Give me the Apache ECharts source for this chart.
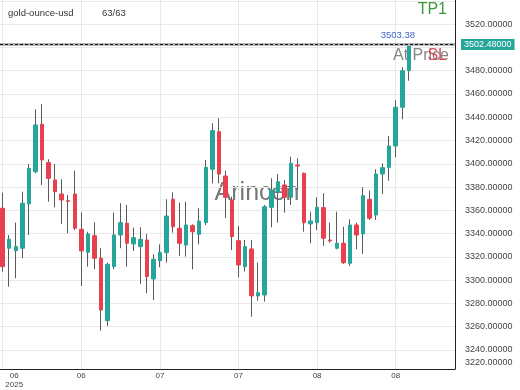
<!DOCTYPE html>
<html>
<head>
<meta charset="utf-8">
<script src="https://cdn.jsdelivr.net/npm/echarts@6/dist/echarts.min.js"></script>
<style>html,body{margin:0;padding:0;background:#fff}#c{width:520px;height:390px}</style>
</head>
<body>
<div id="c"></div>
<script>
// ---- data ----
const symbolName = 'gold-ounce-usd';
const opens  = [3361.8,3327.4,3325.3,3327.4,3365.5,3393.2,3434.0,3401.0,3386.1,3374.0,
                3368.3,3374.0,3343.7,3323.9,3338.2,3318.8,3265.2,3311.6,3338.8,3348.9,
                3331.1,3328.8,3334.5,3301.0,3316.7,3323.6,3369.5,3344.6,3330.2,3346.8,
                3339.4,3349.4,3395.3,3427.6,3389.5,3368.9,3333.9,3311.6,3326.8,3286.4,
                3287.2,3362.6,3376.0,3381.8,3371.2,3399.0,3391.8,3348.3,3349.4,3362.3,
                3334.5,3327.4,3331.7,3314.5,3347.4,3339.7,3369.5,3356.0,3391.2,3397.0,
                3415.3,3448.6,3480.0];
const closes = [3311.6,3335.1,3328.8,3366.1,3396.1,3433.4,3403.3,3387.5,3376.0,3368.9,
                3367.8,3344.6,3325.1,3339.7,3318.8,3274.3,3313.6,3338.8,3349.4,3331.7,
                3336.5,3335.1,3303.0,3317.9,3323.9,3355.1,3345.9,3331.7,3347.4,3341.6,
                3350.8,3397.0,3428.5,3391.2,3371.2,3337.4,3313.0,3328.8,3286.4,3289.2,
                3363.1,3377.5,3384.6,3371.2,3400.4,3398.1,3349.4,3350.8,3362.6,3336.0,
                3333.7,3331.7,3315.0,3347.4,3338.8,3372.6,3353.2,3391.2,3396.7,3415.3,
                3448.6,3480.0,3502.48];
const lows   = [3307.3,3294.4,3301.6,3318.8,3338.8,3391.8,3381.8,3367.4,3362.6,3348.3,
                3340.3,3343.1,3295.0,3311.6,3309.3,3256.6,3260.6,3309.3,3327.4,3311.6,
                3325.1,3296.7,3288.7,3282.9,3311.0,3315.0,3340.8,3320.8,3320.2,3309.3,
                3330.8,3347.4,3383.2,3383.2,3353.2,3325.9,3302.5,3307.3,3268.6,3282.3,
                3281.5,3345.4,3349.4,3358.0,3364.6,3377.5,3341.6,3331.7,3343.1,3329.4,
                3332.2,3326.5,3313.9,3312.2,3326.5,3322.5,3351.7,3351.7,3374.0,3385.5,
                3405.6,3438.3,3471.4];
const highs  = [3375.2,3338.8,3349.4,3376.0,3399.8,3446.8,3451.4,3403.9,3399.8,3386.7,
                3373.2,3394.1,3358.3,3341.6,3349.7,3327.4,3315.0,3358.0,3366.1,3364.6,
                3345.1,3345.4,3339.7,3322.2,3330.8,3369.5,3375.5,3366.6,3367.4,3348.0,
                3361.8,3403.3,3434.8,3439.1,3394.1,3371.7,3346.5,3334.5,3334.5,3315.0,
                3364.6,3387.5,3391.2,3386.1,3406.1,3404.7,3392.5,3358.8,3371.2,3374.7,
                3349.4,3358.8,3345.9,3352.3,3349.4,3379.8,3376.9,3395.3,3400.4,3423.9,
                3454.8,3482.9,3503.38];
const xTickIndex  = [0, 12, 24, 36, 48, 60];
const xTickLabels = ['06', '06', '07', '07', '08', '08'];
const yearLabel = '2025';
const yTicks = [3240,3260,3280,3300,3320,3340,3360,3380,3400,3420,3440,3460,3480,3500,3520,3540];
const yLabelTicks = [3240,3260,3280,3300,3320,3340,3360,3380,3400,3420,3440,3460,3480,3500,3520];
const lastPrice = 3502.48;
const lastHigh = 3503.38;

// ---- layout constants ----
const Y_MIN = 3223.6, Y_MAX = 3540.8;
const X_MIN = -0.412, X_MAX = 69.05;
const UP = '#26a69a', DOWN = '#e8404f', WICK = '#5a5a5a';
const FONT = '"Liberation Sans", Arial, sans-serif';

const n = opens.length;
const wickData = opens.map((o, i) => [i, o, closes[i], lows[i], highs[i]]);
const bodyData = opens.map((o, i) => [i, o, closes[i], Math.min(o, closes[i]), Math.max(o, closes[i])]);

const chart = echarts.init(document.getElementById('c'), null, {renderer: 'canvas'});
chart.setOption({
  animation: false,
  grid: {left: 0, right: 65, top: 0, bottom: 21, containLabel: false, outerBoundsMode: 'none'},
  xAxis: {
    type: 'value', min: X_MIN, max: X_MAX,
    axisLine: {show: true, onZero: false, lineStyle: {color: '#222', width: 1}},
    axisTick: {show: false, customValues: xTickIndex},
    splitLine: {show: true, lineStyle: {color: '#e9e9e9', width: 1}},
    axisLabel: {
      customValues: xTickIndex,
      fontSize: 8, color: '#444', fontFamily: FONT, margin: 2, lineHeight: 9,
      formatter: function (v) {
        const k = xTickIndex.indexOf(Math.round(v));
        const t = k >= 0 ? xTickLabels[k] : '';
        if (k === 0) return '{f|' + t + '}\n{f|' + yearLabel + '}';
        return t;
      },
      rich: {f: {fontSize: 8, color: '#444', fontFamily: FONT, lineHeight: 9, padding: [0, 0, 0, 23]}}
    }
  },
  yAxis: {
    type: 'value', position: 'right', min: Y_MIN, max: Y_MAX, scale: true,
    axisLine: {show: true, onZero: false, lineStyle: {color: '#222', width: 1}},
    axisTick: {show: false, customValues: yTicks},
    splitLine: {show: true, lineStyle: {color: '#e9e9e9', width: 1}},
    axisLabel: {
      customValues: [Y_MIN].concat(yLabelTicks),
      fontSize: 9, color: '#444', fontFamily: FONT, margin: 10,
      formatter: function (v) {
        const t = (Math.round(v / 20) * 20).toFixed(5);
        if (v === Y_MIN) return '{m|' + t + '}';
        return t;
      },
      rich: {m: {fontSize: 9, color: '#444', fontFamily: FONT, padding: [0, 0, 12, 0]}}
    }
  },
  graphic: [
    {type: 'text', z: 0, x: 257, y: 193,
     style: {text: 'Arincen', font: '25px ' + FONT, fill: 'rgba(85,85,85,0.8)', align: 'center', verticalAlign: 'middle'}},
    {type: 'text', z: 100, x: 8, y: 13,
     style: {text: symbolName, font: '9.5px ' + FONT, fill: '#333', align: 'left', verticalAlign: 'middle'}},
    {type: 'text', z: 100, x: 102, y: 13,
     style: {text: n + '/' + n, font: '9.5px ' + FONT, fill: '#333', align: 'left', verticalAlign: 'middle'}},
    {type: 'text', z: 100, x: 447, y: 10,
     style: {text: 'TP1', font: '16px ' + FONT, fill: '#3f9a3f', align: 'right', verticalAlign: 'middle'}},
    {type: 'text', z: 100, x: 393, y: 56,
     style: {text: 'At Price', font: '16px ' + FONT, fill: 'rgba(120,120,120,0.9)', align: 'left', verticalAlign: 'middle'}},
    {type: 'text', z: 101, x: 447, y: 56,
     style: {text: 'SL', font: '16px ' + FONT, fill: 'rgba(214,58,70,0.9)', align: 'right', verticalAlign: 'middle'}}
  ],
  series: [
    {
      type: 'candlestick', name: 'wick', z: 2, barWidth: 1,
      data: wickData, encode: {x: 0, y: [1, 2, 3, 4]},
      itemStyle: {color: WICK, color0: WICK, borderColor: WICK, borderColor0: WICK, borderWidth: 1},
      silent: true
    },
    {
      type: 'candlestick', name: symbolName, z: 3, barWidth: 4,
      data: bodyData, encode: {x: 0, y: [1, 2, 3, 4]},
      itemStyle: {color: UP, color0: DOWN, borderColor: UP, borderColor0: DOWN, borderWidth: 1},
      markLine: {
        silent: true, symbol: 'none', animation: false,
        data: [
          {yAxis: lastPrice, lineStyle: {color: '#b5b5b5', width: 3, type: 'solid'},
           label: {show: true, position: 'end', distance: 6, formatter: lastPrice.toFixed(5),
                   backgroundColor: UP, color: '#fff', fontSize: 9, fontFamily: FONT, padding: [1, 3, 1, 3]}},
          {yAxis: lastPrice, lineStyle: {color: '#111', width: 1, type: [3, 2]}, label: {show: false}}
        ]
      },
      markPoint: {
        silent: true, animation: false, z: 10,
        data: [{coord: [n - 1, lastHigh], value: lastHigh, symbol: 'circle', symbolSize: 1,
                itemStyle: {color: 'rgba(0,0,0,0)'},
                label: {show: true, position: 'inside', offset: [-11, -8], formatter: lastHigh.toFixed(2),
                        color: '#3f62c6', fontSize: 9.5, fontFamily: FONT}}]
      }
    }
  ]
});
</script>
</body>
</html>
